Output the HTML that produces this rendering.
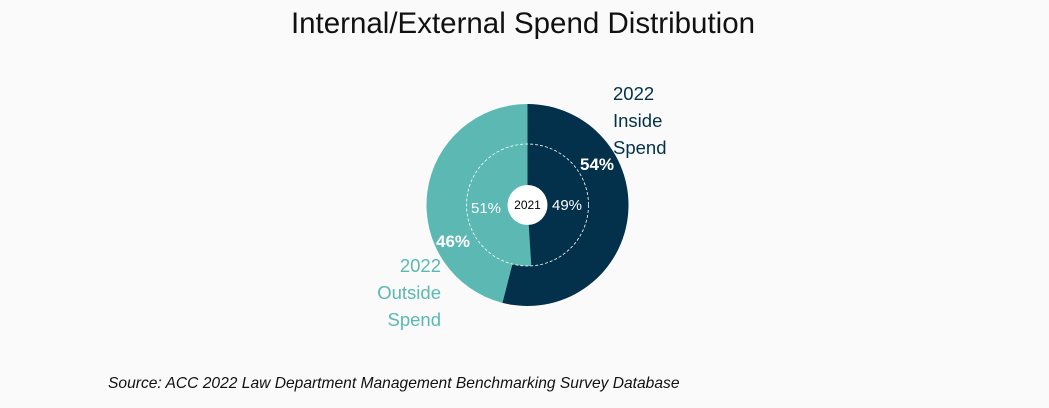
<!DOCTYPE html>
<html><head><meta charset="utf-8"><style>
body{margin:0;background:#fafafa;font-family:"Liberation Sans",sans-serif}
</style></head><body>
<svg width="1049" height="403" viewBox="0 0 1049 403">
<rect width="1049" height="403" fill="#fafafa"/>
<text x="523" y="33" text-anchor="middle" font-size="29.5" fill="#111">Internal/External Spend Distribution</text>
<g id="rings"></g>
<text x="613" y="100" font-size="18.5" fill="#03304a">2022</text>
<text x="613" y="127" font-size="18.5" fill="#03304a">Inside</text>
<text x="613" y="154" font-size="18.5" fill="#03304a">Spend</text>
<text x="441" y="272" text-anchor="end" font-size="18.5" fill="#5bb8b3">2022</text>
<text x="441" y="299" text-anchor="end" font-size="18.5" fill="#5bb8b3">Outside</text>
<text x="441" y="326" text-anchor="end" font-size="18.5" fill="#5bb8b3">Spend</text>
<text x="108" y="388" font-size="15.6" font-style="italic" fill="#111">Source: ACC 2022 Law Department Management Benchmarking Survey Database</text>
</svg>
<script>
const categories=["Inside","Outside"];
const values2022=[54,46];
const values2021=[49,51];
const colors=["#03304a","#5bb8b3"];
const cx=527.5,cy=205,R=101,r=61,hole=20;
const g=document.getElementById('rings');
const NS="http://www.w3.org/2000/svg";
function pt(rad,frac){const a=frac*2*Math.PI;return [cx+rad*Math.sin(a),cy-rad*Math.cos(a)];}
function sector(rad,f0,f1){const p0=pt(rad,f0),p1=pt(rad,f1);const large=(f1-f0)>0.5?1:0;
return `M${cx},${cy} L${p0[0]},${p0[1]} A${rad},${rad} 0 ${large} 1 ${p1[0]},${p1[1]} Z`;}
function ring(vals,rad,name){let tot=vals.reduce((a,b)=>a+b,0),acc=0;
vals.forEach((v,i)=>{const f0=acc/tot,f1=(acc+v)/tot;acc+=v;
const p=document.createElementNS(NS,'path');p.setAttribute('d',sector(rad,f0,f1));p.setAttribute('fill',colors[i]);


g.appendChild(p);});}
ring(values2022,R,'outer-slice-2022');
ring(values2021,r,'inner-slice-2021');
const dc=document.createElementNS(NS,'circle');dc.setAttribute('cx',cx);dc.setAttribute('cy',cy);dc.setAttribute('r',r);dc.setAttribute('fill','none');dc.setAttribute('stroke','#fff');dc.setAttribute('stroke-width','0.8');dc.setAttribute('stroke-dasharray','3 2');


g.appendChild(dc);
const c=document.createElementNS(NS,'circle');c.setAttribute('cx',cx);c.setAttribute('cy',cy);c.setAttribute('r',hole);c.setAttribute('fill','#fff');


g.appendChild(c);
function lbl(x,y,t,size,fill,bold,name){const e=document.createElementNS(NS,'text');e.setAttribute('x',x);e.setAttribute('y',y);e.setAttribute('text-anchor','middle');e.setAttribute('font-size',size);e.setAttribute('fill',fill);if(bold)e.setAttribute('font-weight','bold');e.textContent=t;


g.appendChild(e);}
lbl(cx,cy+4,'2021',12,'#000',false,'center-year-label');
lbl(597,170,values2022[0]+'%',17,'#fff',true,'value-2022-inside');
lbl(453,247,values2022[1]+'%',17,'#fff',true,'value-2022-outside');
lbl(567,210,values2021[0]+'%',15,'#fff',false,'value-2021-inside');
lbl(486,213,values2021[1]+'%',15,'#fff',false,'value-2021-outside');
</script>
</body></html>
